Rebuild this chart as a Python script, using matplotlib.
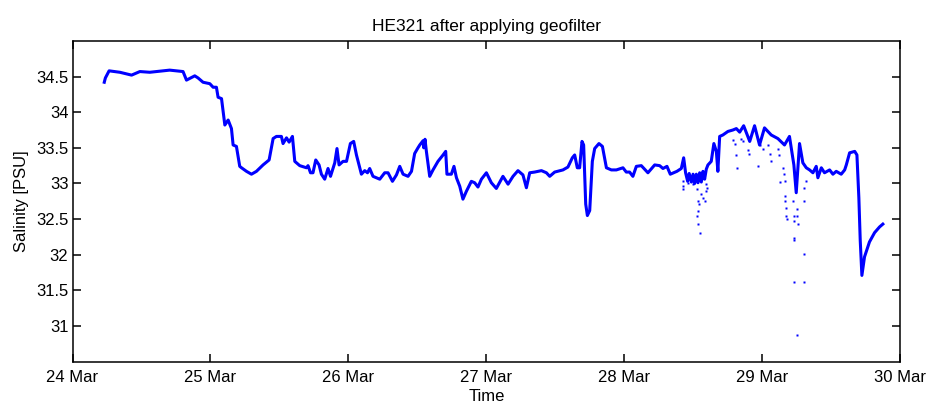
import matplotlib
matplotlib.use("Agg")
import matplotlib.pyplot as plt

# time in days after 24 Mar 00:00, salinity in PSU
t_line = [0.230, 0.238, 0.265, 0.343, 0.428, 0.488, 0.560, 0.609, 0.704, 0.801,
          0.826, 0.886, 0.910, 0.946, 0.995, 1.019, 1.043, 1.055, 1.080, 1.104,
          1.128, 1.152, 1.164, 1.188, 1.212, 1.225, 1.261, 1.297, 1.333, 1.381,
          1.425, 1.454, 1.478, 1.514, 1.526, 1.551, 1.570, 1.594, 1.611, 1.647,
          1.696, 1.707, 1.725, 1.743, 1.763, 1.787, 1.804, 1.828, 1.852, 1.870,
          1.901, 1.917, 1.932, 1.961, 1.986, 2.014, 2.038, 2.058, 2.094, 2.118,
          2.138, 2.154, 2.178, 2.227, 2.263, 2.287, 2.319, 2.348, 2.372, 2.396,
          2.432, 2.457, 2.480, 2.504, 2.517, 2.541, 2.546, 2.555, 2.565, 2.589,
          2.613, 2.649, 2.686, 2.705, 2.714, 2.746, 2.765, 2.783, 2.807, 2.830,
          2.855, 2.891, 2.915, 2.939, 2.964, 3.000, 3.036, 3.072, 3.120, 3.157,
          3.193, 3.229, 3.265, 3.290, 3.314, 3.350, 3.399, 3.435, 3.459, 3.495,
          3.555, 3.591, 3.623, 3.640, 3.659, 3.676, 3.693, 3.705, 3.720, 3.732,
          3.749, 3.768, 3.785, 3.816, 3.841, 3.870, 3.906, 3.942, 3.990, 4.014,
          4.038, 4.062, 4.087, 4.123, 4.171, 4.220, 4.256, 4.280, 4.309, 4.333,
          4.381, 4.413, 4.430, 4.444, 4.459, 4.470, 4.486, 4.498, 4.510, 4.522,
          4.534, 4.546, 4.558, 4.570, 4.582, 4.594, 4.606, 4.630, 4.649, 4.667,
          4.678, 4.691, 4.714, 4.751, 4.787, 4.812, 4.836, 4.865, 4.909, 4.944,
          4.980, 5.016, 5.065, 5.113, 5.161, 5.197, 5.229, 5.246, 5.270, 5.294,
          5.319, 5.343, 5.367, 5.391, 5.403, 5.428, 5.451, 5.488, 5.512, 5.536,
          5.572, 5.597, 5.609, 5.633, 5.670, 5.686, 5.700, 5.710, 5.722, 5.741,
          5.777, 5.814, 5.850, 5.874]
s_line = [34.42, 34.48, 34.58, 34.56, 34.52, 34.57, 34.56, 34.57, 34.59, 34.57,
          34.45, 34.51, 34.48, 34.42, 34.40, 34.35, 34.35, 34.21, 34.19, 33.82,
          33.89, 33.77, 33.54, 33.52, 33.24, 33.22, 33.17, 33.13, 33.17, 33.26,
          33.33, 33.63, 33.66, 33.66, 33.56, 33.64, 33.58, 33.66, 33.31, 33.25,
          33.22, 33.25, 33.15, 33.15, 33.33, 33.26, 33.13, 33.06, 33.21, 33.10,
          33.29, 33.49, 33.26, 33.31, 33.31, 33.56, 33.59, 33.40, 33.13, 33.18,
          33.15, 33.21, 33.10, 33.06, 33.15, 33.15, 33.03, 33.12, 33.24, 33.13,
          33.10, 33.17, 33.42, 33.50, 33.54, 33.60, 33.50, 33.62, 33.45, 33.10,
          33.19, 33.31, 33.40, 33.45, 33.13, 33.13, 33.24, 33.08, 32.96, 32.78,
          32.89, 33.03, 33.01, 32.95, 33.06, 33.15, 33.01, 32.93, 33.10, 32.99,
          33.10, 33.18, 33.12, 32.94, 33.15, 33.16, 33.18, 33.15, 33.10, 33.16,
          33.19, 33.23, 33.36, 33.40, 33.22, 33.22, 33.59, 33.54, 32.71, 32.55,
          32.62, 33.31, 33.49, 33.56, 33.52, 33.22, 33.19, 33.19, 33.22, 33.16,
          33.16, 33.10, 33.24, 33.25, 33.15, 33.26, 33.25, 33.21, 33.24, 33.13,
          33.17, 33.21, 33.36, 33.15, 33.03, 33.14, 33.02, 33.13, 33.00, 33.13,
          33.01, 33.15, 33.02, 33.17, 33.06, 33.20, 33.26, 33.31, 33.56, 33.45,
          33.17, 33.66, 33.68, 33.73, 33.75, 33.77, 33.72, 33.81, 33.59, 33.81,
          33.54, 33.78, 33.68, 33.63, 33.54, 33.66, 33.26, 32.87, 33.56, 33.29,
          33.22, 33.19, 33.15, 33.24, 33.08, 33.22, 33.15, 33.19, 33.13, 33.17,
          33.13, 33.19, 33.26, 33.43, 33.45, 33.40, 32.80, 32.20, 31.71, 31.97,
          32.18, 32.31, 32.39, 32.43]

# isolated samples below the main trace
t_dots = [4.425, 4.425, 4.425, 4.461, 4.486, 4.497, 4.524, 4.535, 4.538, 4.533,
          4.529, 4.533, 4.546, 4.558, 4.570, 4.582, 4.589, 4.596, 4.594, 4.787,
          4.799, 4.812, 4.816, 4.848, 4.859, 4.896, 4.901, 4.968, 4.980, 5.004,
          5.041, 5.053, 5.065, 5.113, 5.120, 5.125, 5.149, 5.154, 5.162, 5.162,
          5.167, 5.169, 5.174, 5.178, 5.222, 5.227, 5.229, 5.229, 5.232, 5.229,
          5.251, 5.251, 5.254, 5.258, 5.299, 5.301, 5.299, 5.299, 5.319]
s_dots = [32.96, 32.92, 33.03, 33.01, 33.03, 32.99, 32.92, 32.75, 32.71, 32.62,
          32.55, 32.43, 32.31, 32.85, 32.80, 32.75, 32.89, 32.93, 32.99, 33.61,
          33.56, 33.40, 33.22, 33.63, 33.59, 33.47, 33.42, 33.24, 33.54, 33.49,
          33.54, 33.42, 33.31, 33.49, 33.40, 33.02, 33.22, 33.13, 33.03, 32.82,
          32.75, 32.66, 32.55, 32.50, 32.75, 32.55, 32.48, 32.24, 32.21, 31.62,
          30.88, 32.64, 32.55, 32.43, 32.93, 32.75, 32.01, 31.62, 33.03]

tick_days = [0, 1, 2, 3, 4, 5, 6]
tick_labels = ['24 Mar', '25 Mar', '26 Mar', '27 Mar', '28 Mar', '29 Mar', '30 Mar']
y_ticks = [31, 31.5, 32, 32.5, 33, 33.5, 34, 34.5]
y_labels = ['31', '31.5', '32', '32.5', '33', '33.5', '34', '34.5']

plt.rcParams['font.family'] = ['Liberation Sans', 'DejaVu Sans']
plt.rcParams['font.size'] = 12

fig = plt.figure(figsize=(9.3, 4.05), dpi=100)
ax = fig.add_axes([0.078, 0.107, 0.89, 0.792])

ax.plot(t_line, s_line, color='#0000ff', lw=2.2, solid_joinstyle='round')
ax.plot(t_dots, s_dots, 's', color='#0000ff', ms=1.8, mec='none')

ax.set_xlim(0, 6)
ax.set_ylim(30.5, 35)
ax.set_xticks(tick_days)
ax.set_xticklabels(tick_labels)
ax.set_yticks(y_ticks)
ax.set_yticklabels(y_labels)
ax.tick_params(direction='in', length=6, width=1.1, top=True, right=True)
ax.tick_params(axis='x', pad=6)
ax.tick_params(axis='y', pad=3)
for sp in ax.spines.values():
    sp.set_linewidth(1.1)

ax.set_title('HE321 after applying geofilter', fontsize=12.5, pad=7)
ax.set_xlabel('Time', labelpad=3)
ax.set_ylabel('Salinity [PSU]', labelpad=5)

fig.savefig('out.png', dpi=100)
